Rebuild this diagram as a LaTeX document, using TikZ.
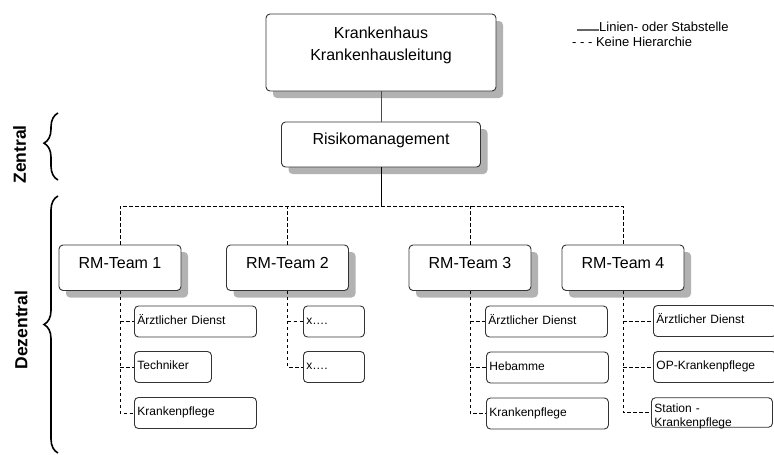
\documentclass[tikz,border=0pt]{standalone}
\usepackage{fontspec}
\setmainfont{Liberation Sans}
\usetikzlibrary{shapes,shadows,decorations.pathreplacing}

\begin{document}
\begin{tikzpicture}[x=1pt,y=-1pt,
  box/.style={draw=black!80,fill=white,rounded corners=4pt,line width=0.9pt,inner ysep=0pt},
  chief/.style={box,drop shadow={shadow xshift=7pt,shadow yshift=-7pt,fill=black!30,opacity=1}},
  teambox/.style={chief,minimum width=122pt,text height=23pt,text depth=22.5pt,font=\fontsize{16}{19}\selectfont},
  member/.style={box,anchor=west,inner xsep=3pt,text width=#1,align=left,text height=18pt,text depth=13pt,font=\fontsize{12}{14}\selectfont},
  line/.style={black!70,line width=0.9pt},
  hier/.style={black,line width=0.9pt,dash pattern=on 3.5pt off 2.5pt},
  sidebrace/.style={decorate,decoration={brace,amplitude=14pt,aspect=#1},line width=1.6pt},
  zone/.style={rotate=90,font=\bfseries\fontsize{17.5}{20}\selectfont},
  legend/.style={inner sep=0pt,font=\fontsize{13}{15}\selectfont}
]
  \useasboundingbox (0,0) rectangle (774,455);

  % Leitung und Risikomanagement
  \node[chief,minimum width=230pt,align=center,text height=46.8pt,text depth=30.2pt,
        font=\fontsize{16}{22.5}\selectfont] (haus) at (381,52.5) {Krankenhaus\\Krankenhausleitung};
  \node[chief,minimum width=199pt,text height=22.3pt,text depth=22.7pt,
        font=\fontsize{16}{19}\selectfont] (risk) at (381,144.5) {Risikomanagement};
  \coordinate (bus) at (381,206);

  % RM-Teams
  \node[teambox] (team1) at (120,267.75) {RM-Team 1};
  \node[teambox] (team2) at (287.5,267.75) {RM-Team 2};
  \node[teambox] (team3) at (470,267.75) {RM-Team 3};
  \node[teambox] (team4) at (623,267.75) {RM-Team 4};

  \node[member=116pt] (arzt1) at (134,321.5) {Ärztlicher Dienst};
  \node[member=71pt] (tech1) at (134,367) {Techniker};
  \node[member=116pt] (pflege1) at (134,413) {Krankenpflege};

  \node[member=55pt] (xa2) at (303,321.5) {x….};
  \node[member=55pt] (xb2) at (303,367) {x….};

  \node[member=116pt] (arzt3) at (485,321.5) {Ärztlicher Dienst};
  \node[member=116pt] (heb3) at (486,367.5) {Hebamme};
  \node[member=116pt] (pflege3) at (486,413.5) {Krankenpflege};

  \node[member=117pt] (arzt4) at (653,321) {Ärztlicher Dienst};
  \node[member=117pt] (op4) at (653,367) {OP-Krankenpflege};
  \node[member=115pt,text height=14.5pt,text depth=15pt] (station4) at (651,412.5) {Station -\\Krankenpflege};

  % Verbindungen
  \draw[line] (haus.south) -- (risk.north);
  \draw[line,black] (risk.south) -- (bus);
  \draw[hier] (team1.north) |- (bus) -| (team4.north);
  \draw[hier] (team2.north) -- (team2.north |- bus);
  \draw[hier] (team3.north) -- (team3.north |- bus);

  \draw[hier] (team1.south) |- (pflege1.west);
  \draw[hier] (team1.south |- arzt1.west) -- (arzt1.west);
  \draw[hier] (team1.south |- tech1.west) -- (tech1.west);
  \draw[hier] (team2.south) |- (xb2.west);
  \draw[hier] (team2.south |- xa2.west) -- (xa2.west);
  \draw[hier] (team3.south) |- (pflege3.west);
  \draw[hier] (team3.south |- arzt3.west) -- (arzt3.west);
  \draw[hier] (team3.south |- heb3.west) -- (heb3.west);
  \draw[hier] (team4.south) |- (station4.west);
  \draw[hier] (team4.south |- arzt4.west) -- (arzt4.west);
  \draw[hier] (team4.south |- op4.west) -- (op4.west);

  % Zentral / Dezentral
  \draw[sidebrace=0.55] (58,180) -- (58,113);
  \draw[sidebrace=0.5] (58,453) -- (58,196);
  \node[zone] (zentral) at (19.5,154.5) {Zentral};
  \node[zone] (dezentral) at (21,330) {Dezentral};

  % Legende
  \node[legend,anchor=base west] (solidkey) at (599,31.5) {Linien- oder Stabstelle};
  \node[legend,anchor=base west] (dashkey) at (572,46.7) {- - - Keine Hierarchie};
  \coordinate (solidstart) at (577,30);
  \draw[black!60,line width=1.2pt] (solidstart) -- (solidkey.west |- solidstart);
\end{tikzpicture}
\end{document}
